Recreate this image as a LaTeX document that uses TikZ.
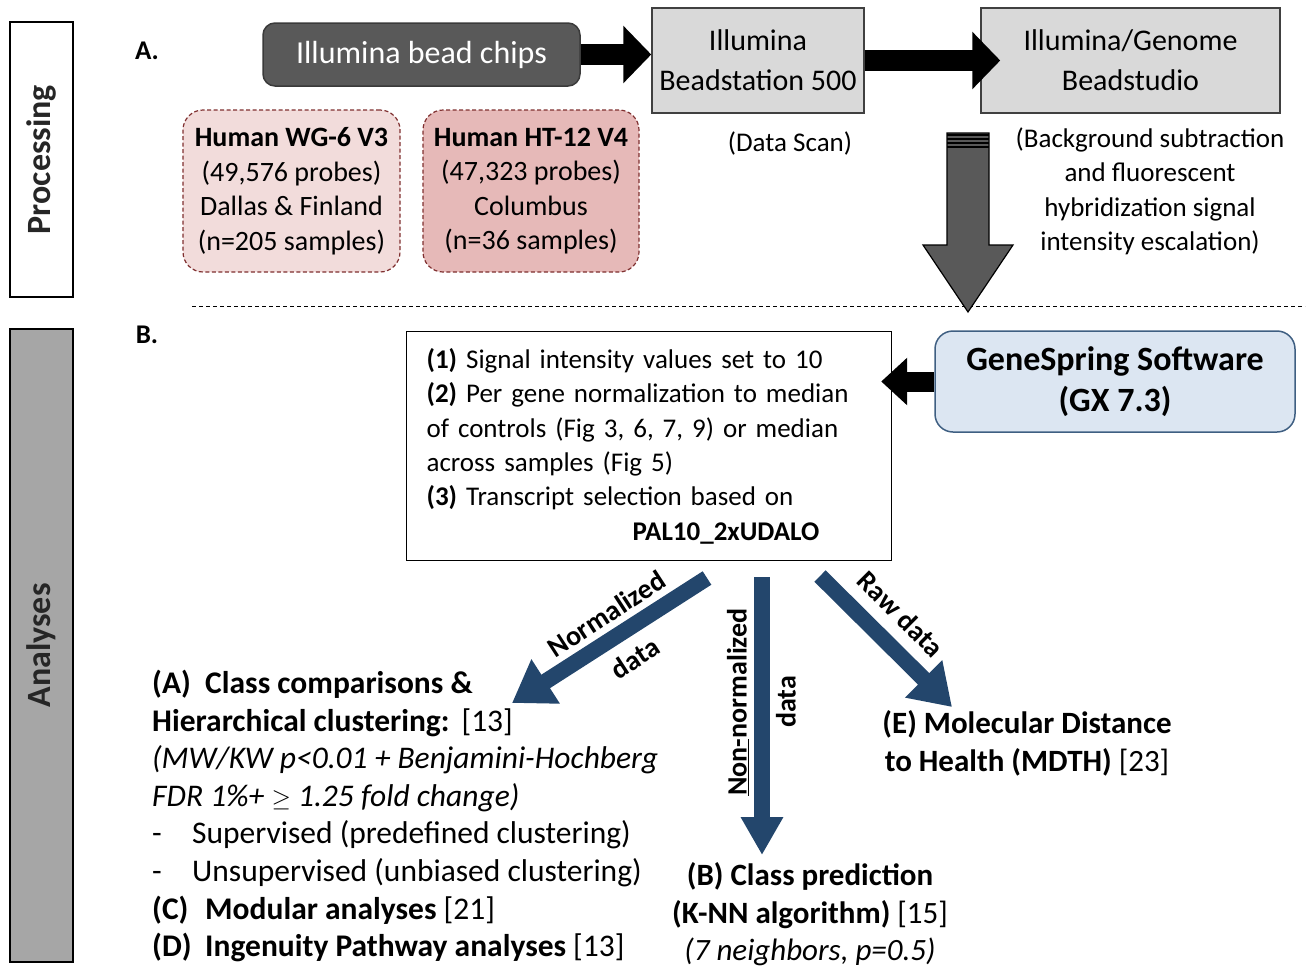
\documentclass[tikz,border=0pt]{standalone}
\usepackage{fontspec}
\setmainfont{Carlito}
\usetikzlibrary{arrows.meta,calc}
\definecolor{chipfill}{HTML}{595959}
\definecolor{chipdraw}{HTML}{3A3A3A}
\definecolor{boxgray}{HTML}{D9D9D9}
\definecolor{boxedge}{HTML}{404040}
\definecolor{pinkA}{HTML}{F2DCDB}
\definecolor{pinkB}{HTML}{E6B9B8}
\definecolor{pinkedge}{HTML}{7F2F2F}
\definecolor{gsfill}{HTML}{DCE6F2}
\definecolor{gsedge}{HTML}{3F5F82}
\definecolor{arrblue}{HTML}{23466C}
\definecolor{downgray}{HTML}{595959}
\definecolor{anagray}{HTML}{A6A6A6}
\newcommand{\myfs}[2]{\fontsize{#1}{#2}\selectfont}
\begin{document}
\begin{tikzpicture}[x=1pt,y=-1pt,
  sidebox/.style={draw=black, line width=1.8pt, inner sep=0pt},
  sidelabel/.style={rotate=90, font=\myfs{34}{40}\bfseries, text=black!85},
  chipbox/.style={draw=chipdraw, line width=1.5pt, fill=chipfill, rounded corners=12pt, text=white, font=\myfs{32}{40}, inner sep=0pt},
  graybox/.style={draw=boxedge, line width=1.5pt, fill=boxgray, align=center, font=\myfs{30}{40}, inner sep=0pt},
  pinkbox/.style={draw=pinkedge, line width=1.2pt, dashed, dash pattern=on 4pt off 2.5pt, rounded corners=20pt, align=center, font=\myfs{28}{34.5}, inner sep=0pt},
  note/.style={align=center, font=\myfs{27}{34.5}, inner sep=0pt},
  mainbox/.style={draw=black, line width=1.2pt, fill=white, align=left, font=\myfs{27}{34.4}, inner xsep=20pt, inner ysep=0pt},
  gsbox/.style={draw=gsedge, line width=1.5pt, fill=gsfill, rounded corners=18pt, align=center, font=\myfs{34}{41}\bfseries, inner sep=0pt},
  blk/.style={line width=21pt, black, -{Triangle[length=28pt,width=56pt]}},
  blue/.style={line width=16pt, arrblue, -{Triangle[length=40pt,width=50pt]}},
  arrlabel/.style={align=center, inner sep=0pt},
  txt/.style={align=left, font=\myfs{31.5}{37.6}, inner sep=0pt},
  ctxt/.style={align=center, font=\myfs{31}{37.5}, inner sep=0pt},
  letter/.style={font=\myfs{27}{32}\bfseries, inner sep=0pt}]
\useasboundingbox (0,0) rectangle (1307,967);

% side boxes
\node[sidebox, fill=white, minimum width=63pt, minimum height=275pt] (proc) at (41.5,159.5) {};
\node[sidelabel] (proctext) at (proc.center) {Processing};
\node[sidebox, fill=anagray, minimum width=63pt, minimum height=633pt] (ana) at (41.5,645.5) {};
\node[sidelabel] (anatext) at (ana.center) {Analyses};

\node[letter] (la) at (147,51) {A.};
\node[letter] (lb) at (147,335) {B.};

% dashed separator
\coordinate (dl) at (192,306);
\coordinate (dr) at (1305,306);
\draw[dashed, dash pattern=on 4pt off 3pt, line width=1pt] (dl) -- (dr);

% processing row
\node[chipbox, minimum width=317pt, minimum height=63pt] (chips) at (421.5,54.5) {Illumina bead chips};
\node[graybox, minimum width=212pt, minimum height=105pt] (station) at (758,60.5) {Illumina\\Beadstation 500};
\node[graybox, minimum width=299pt, minimum height=105pt] (studio) at (1130.5,60.5) {Illumina/Genome\\Beadstudio};
\draw[blk] (chips.east) -- (chips.east -| station.west);
\draw[blk, shorten >=-20pt] (station.east) -- (studio.west);

\node[note] (scan) at (790,143) {(Data Scan)};
\node[note] (bg) at (1150,191.5) {(Background subtraction\\and fluorescent\\hybridization signal\\intensity escalation)};

\node[pinkbox, fill=pinkA, minimum width=217pt, minimum height=162pt] (wg) at (291.5,191) {\textbf{Human WG-6 V3}\\(49,576 probes)\\Dallas \& Finland\\(n=205 samples)};
\node[pinkbox, fill=pinkB, minimum width=216pt, minimum height=162pt] (ht) at (531,191) {\textbf{Human HT-12 V4}\\(47,323 probes)\\Columbus\\(n=36 samples)};

% gray down arrow
\coordinate (gtop) at (968,133);
\coordinate (gtip) at (968,312);
\draw[fill=downgray, draw=black, line width=1.2pt, line join=miter]
  ($(gtop)+(-21,0)$) -- ($(gtip)+(-21,-67)$) -- ($(gtip)+(-45,-67)$) -- (gtip)
  -- ($(gtip)+(45,-67)$) -- ($(gtip)+(21,-67)$) -- ($(gtop)+(21,0)$) -- cycle;
\foreach \yy in {2,6,10,14} {\draw[black, line width=1.3pt] ($(gtop)+(-21,\yy)$) -- ($(gtop)+(21,\yy)$);}

% analyses
\node[mainbox, anchor=north west, text width=445pt, minimum height=229pt] (main) at (406,331) {%
\textbf{(1)} Signal intensity values set to 10\\
\textbf{(2)} Per gene normalization to median\\
of controls (Fig 3, 6, 7, 9) or median\\
across samples (Fig 5)\\
\textbf{(3)} Transcript selection based on\\
\hspace*{206pt}\textbf{PAL10\_2xUDALO}};
\node[gsbox, minimum width=360pt, minimum height=101pt] (gs) at (1115,381.5) {GeneSpring Software\\(GX 7.3)};
\draw[blk, line width=20pt, -{Triangle[length=26pt,width=46pt]}, shorten >=-11pt] (gs.west) -- (gs.west -| main.east);

% blue arrows
\coordinate (n1) at (707,578);
\coordinate (n2) at (512,703);
\coordinate (d1) at (762,577);
\coordinate (d2) at (762,855);
\coordinate (r1) at (820,576);
\coordinate (r2) at (952,707);
\draw[blue] (n1) -- (n2);
\draw[blue, -{Triangle[length=38pt,width=40pt]}] (d1) -- (d2);
\draw[blue] (r1) -- (r2);

\node[arrlabel, rotate=33, font=\myfs{28}{53}\bfseries] (nl) at (621,636) {Normalized\\data};
\node[arrlabel, rotate=90, font=\myfs{28}{49}\bfseries] (nn) at (761.5,702) {\underline{Non-}normalized\\data};
\node[arrlabel, rotate=-45, font=\myfs{28}{32}\bfseries] (rl) at (901,614) {Raw data};

% result texts
\node[txt, anchor=north west] (ablk) at (152,670) {%
\makebox[53pt][l]{\textbf{(A)}}\textbf{Class comparisons \&}\\
\textbf{Hierarchical clustering:}\hspace{12pt}[13]\\
\textit{(MW/KW p<0.01 + Benjamini-Hochberg}\\
\textit{FDR 1\%+ $\geq$ 1.25 fold change)}\\
\makebox[40pt][l]{-}Supervised (predefined clustering)\\
\makebox[40pt][l]{-}Unsupervised (unbiased clustering)\\
\makebox[53pt][l]{\textbf{(C)}}\textbf{Modular analyses} [21]\\
\makebox[53pt][l]{\textbf{(D)}}\textbf{Ingenuity Pathway analyses} [13]};

\node[ctxt] (etxt) at (1027,743.5) {\textbf{(E) Molecular Distance}\\\textbf{to Health (MDTH)} [23]};
\node[ctxt] (btxt) at (810,914.5) {\textbf{(B) Class prediction}\\\textbf{(K-NN algorithm)} [15]\\\textit{(7 neighbors, p=0.5)}};
\end{tikzpicture}
\end{document}
